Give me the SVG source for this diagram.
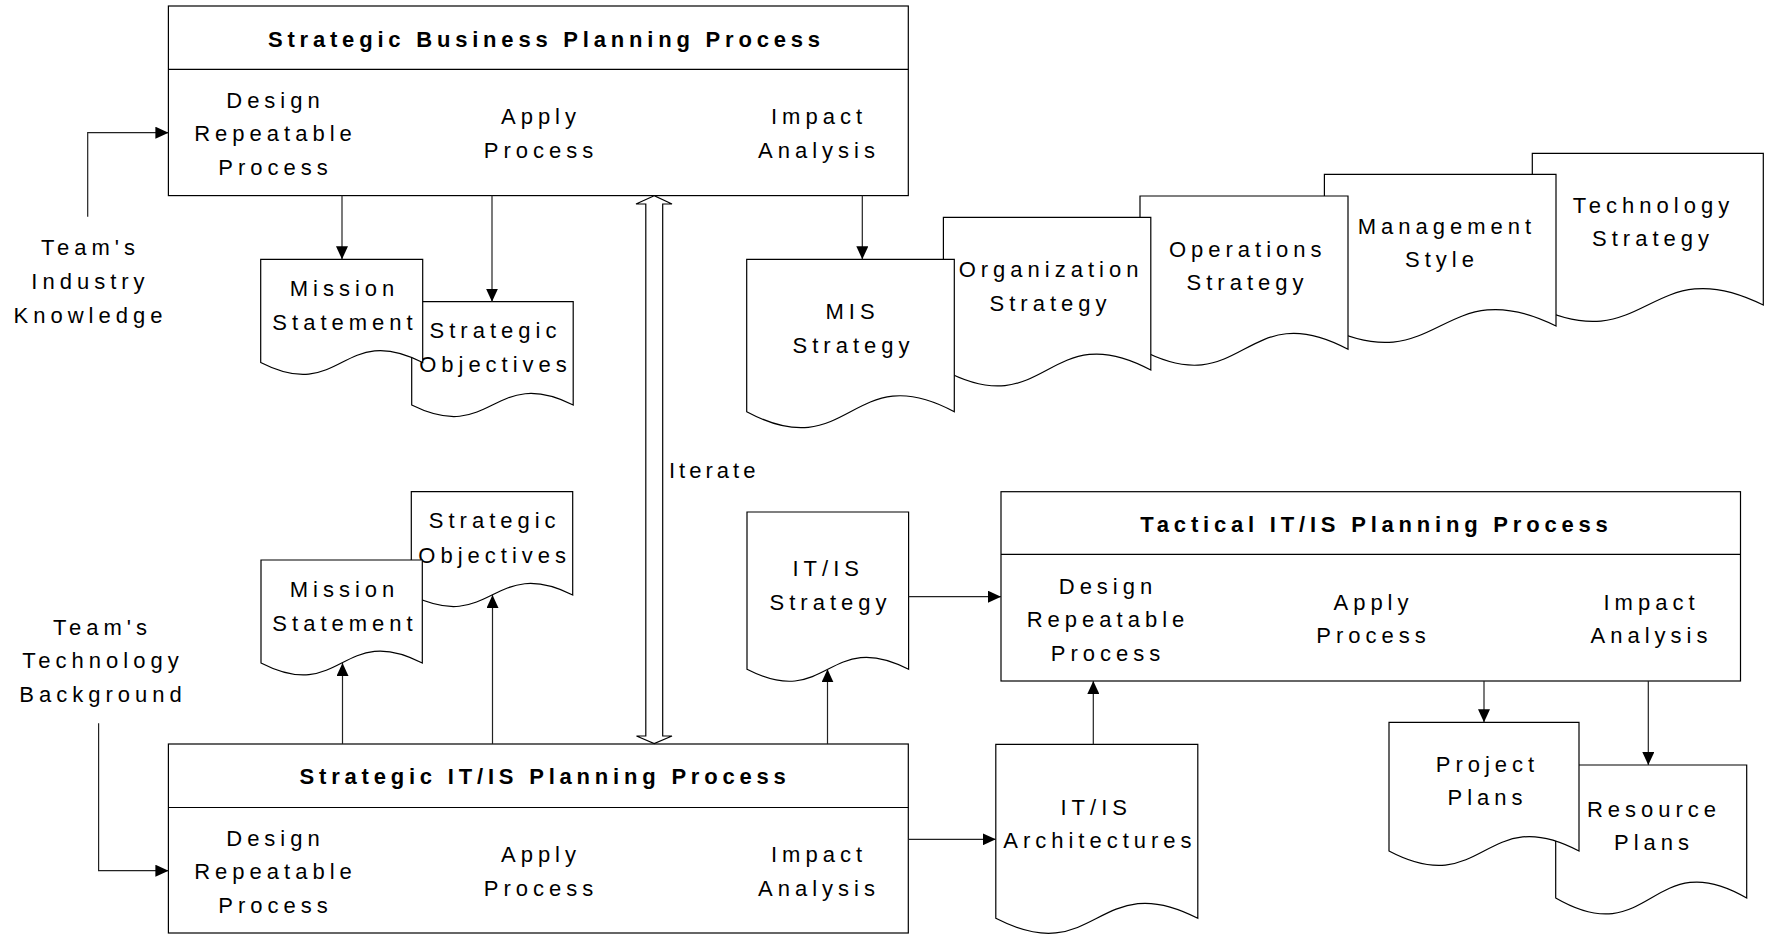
<svg xmlns="http://www.w3.org/2000/svg" width="1772" height="934" viewBox="0 0 1772 934">
<defs>
<style>
.shape{fill:#fff;stroke:#000;stroke-width:1.2}
.line{fill:none;stroke:#000;stroke-width:1.2}
.conn{fill:none;stroke:#222;stroke-width:1.2;marker-end:url(#arrow)}
.t{font-family:"Liberation Sans",Arial,sans-serif;font-size:22px;letter-spacing:5px;text-anchor:middle;fill:#000}
.tl{font-family:"Liberation Sans",Arial,sans-serif;font-size:22px;letter-spacing:4px;fill:#000}
.title{font-family:"Liberation Sans",Arial,sans-serif;font-size:22px;font-weight:bold;letter-spacing:4.8px;text-anchor:middle;fill:#000}
</style>
<marker id="arrow" markerUnits="userSpaceOnUse" markerWidth="13" markerHeight="12" refX="13" refY="6" orient="auto">
<path d="M0,0 L13,6 L0,12 Z" fill="#000"/>
</marker>
</defs>
<rect width="1772" height="934" fill="#fff"/>

<g id="strategic-business-planning">
<rect class="shape" x="168.4" y="6" width="739.9" height="189.6"/>
<line class="line" x1="168.4" y1="69.3" x2="908.3" y2="69.3"/>
<text class="title" x="546.4" y="46.7">Strategic Business Planning Process</text>
<text class="t"><tspan x="275.5" y="108.3">Design</tspan><tspan x="275.5" y="141.3">Repeatable</tspan><tspan x="275.5" y="175">Process</tspan></text>
<text class="t"><tspan x="541" y="124">Apply</tspan><tspan x="541" y="157.7">Process</tspan></text>
<text class="t"><tspan x="819" y="124">Impact</tspan><tspan x="819" y="157.7">Analysis</tspan></text>
</g>

<g id="industry-knowledge">
<text class="t"><tspan x="90.5" y="255">Team's</tspan><tspan x="90.5" y="288.7">Industry</tspan><tspan x="90.5" y="322.7">Knowledge</tspan></text>
</g>

<g id="strategic-objectives-top">
<path class="shape" d="M411.7,301.7 H573.2 V405 C492.4,365 492.4,445 411.7,405 Z"/>
<text class="t"><tspan x="495.5" y="338.3">Strategic</tspan><tspan x="495.5" y="372.3">Objectives</tspan></text>
</g>

<g id="mission-statement-top">
<path class="shape" d="M260.7,259.3 H422.7 V362.5 C341.7,321 341.7,404 260.7,362.5 Z"/>
<text class="t"><tspan x="344.5" y="296">Mission</tspan><tspan x="345" y="330">Statement</tspan></text>
</g>

<g id="technology-strategy">
<path class="shape" d="M1532.3,153.3 H1763.3 V305 C1647.8,248 1647.8,362 1532.3,305 Z"/>
<text class="t"><tspan x="1653.5" y="212.7">Technology</tspan><tspan x="1653" y="246">Strategy</tspan></text>
</g>

<g id="management-style">
<path class="shape" d="M1324.4,174.3 H1556 V326 C1440.2,269 1440.2,383 1324.4,326 Z"/>
<text class="t"><tspan x="1447" y="234">Management</tspan><tspan x="1442" y="267.3">Style</tspan></text>
</g>

<g id="operations-strategy">
<path class="shape" d="M1140,196 H1348 V349.3 C1244,294 1244,404.6 1140,349.3 Z"/>
<text class="t"><tspan x="1247.7" y="256.7">Operations</tspan><tspan x="1247.5" y="290">Strategy</tspan></text>
</g>

<g id="organization-strategy">
<path class="shape" d="M943.4,217.3 H1150.8 V370 C1047.1,314.6 1047.1,425.4 943.4,370 Z"/>
<text class="t"><tspan x="1051" y="276.7">Organization</tspan><tspan x="1050.5" y="310.7">Strategy</tspan></text>
</g>

<g id="mis-strategy">
<path class="shape" d="M746.7,259.3 H954.3 V411.7 C850.5,356.3 850.5,467.1 746.7,411.7 Z"/>
<text class="t"><tspan x="852.5" y="319.3">MIS</tspan><tspan x="853.5" y="352.7">Strategy</tspan></text>
</g>

<g id="iterate">
<text class="tl" x="669" y="478">Iterate</text>
</g>

<g id="strategic-objectives-bottom">
<path class="shape" d="M411.3,491.7 H572.7 V595 C492,555 492,635 411.3,595 Z"/>
<text class="t"><tspan x="494.7" y="528.3">Strategic</tspan><tspan x="494.7" y="562.7">Objectives</tspan></text>
</g>

<g id="mission-statement-bottom">
<path class="shape" d="M261,560 H422.3 V663 C341.7,621.5 341.7,704.5 261,663 Z"/>
<text class="t"><tspan x="344.5" y="596.7">Mission</tspan><tspan x="345" y="630.7">Statement</tspan></text>
</g>

<g id="technology-background">
<text class="t"><tspan x="102.5" y="635">Team's</tspan><tspan x="103" y="668.3">Technology</tspan><tspan x="103" y="701.7">Background</tspan></text>
</g>

<g id="itis-strategy">
<path class="shape" d="M747,512 H908.6 V669.3 C827.8,627.8 827.8,710.8 747,669.3 Z"/>
<text class="t"><tspan x="828.2" y="575.7">IT/IS</tspan><tspan x="830.5" y="610">Strategy</tspan></text>
</g>

<g id="tactical-itis-planning">
<rect class="shape" x="1001" y="491.7" width="739.5" height="189.3"/>
<line class="line" x1="1001" y1="554.3" x2="1740.5" y2="554.3"/>
<text class="title" x="1376.4" y="531.7">Tactical IT/IS Planning Process</text>
<text class="t"><tspan x="1108" y="594">Design</tspan><tspan x="1108" y="627">Repeatable</tspan><tspan x="1108" y="660.7">Process</tspan></text>
<text class="t"><tspan x="1373.5" y="609.7">Apply</tspan><tspan x="1373.5" y="643.4">Process</tspan></text>
<text class="t"><tspan x="1651.5" y="609.7">Impact</tspan><tspan x="1651.5" y="643.4">Analysis</tspan></text>
</g>

<g id="strategic-itis-planning">
<rect class="shape" x="168.4" y="744" width="739.9" height="189"/>
<line class="line" x1="168.4" y1="807.5" x2="908.3" y2="807.5"/>
<text class="title" x="545.1" y="784">Strategic IT/IS Planning Process</text>
<text class="t"><tspan x="275.5" y="846.3">Design</tspan><tspan x="275.5" y="879.3">Repeatable</tspan><tspan x="275.5" y="913">Process</tspan></text>
<text class="t"><tspan x="541" y="862">Apply</tspan><tspan x="541" y="895.7">Process</tspan></text>
<text class="t"><tspan x="819" y="862">Impact</tspan><tspan x="819" y="895.7">Analysis</tspan></text>
</g>

<g id="itis-architectures">
<path class="shape" d="M995.8,744.3 H1197.8 V918.3 C1096.8,866.3 1096.8,970.3 995.8,918.3 Z"/>
<text class="t"><tspan x="1096.2" y="815">IT/IS</tspan><tspan x="1099.9" y="848.3">Architectures</tspan></text>
</g>

<g id="resource-plans">
<path class="shape" d="M1555.7,765 H1746.7 V898 C1651.2,842.6 1651.2,953.4 1555.7,898 Z"/>
<text class="t"><tspan x="1654" y="816.7">Resource</tspan><tspan x="1654" y="850">Plans</tspan></text>
</g>

<g id="project-plans">
<path class="shape" d="M1389,722.3 H1579 V851 C1484,801 1484,901 1389,851 Z"/>
<text class="t"><tspan x="1487.5" y="771.7">Project</tspan><tspan x="1487.5" y="805">Plans</tspan></text>
</g>

<g id="connectors">
<path class="conn" d="M87.7,216.7 V132.7 H168.4"/>
<path class="conn" d="M98.6,723.3 V870.7 H168.4"/>
<path class="conn" d="M342,195.6 V259.3"/>
<path class="conn" d="M492,195.6 V301.7"/>
<path class="conn" d="M862.3,195.6 V259.3"/>
<path class="conn" d="M342.5,744 V663"/>
<path class="conn" d="M492.5,744 V595"/>
<path class="conn" d="M827.5,744 V669.3"/>
<path class="conn" d="M908.6,596.7 H1001"/>
<path class="conn" d="M908.3,839.3 H995.8"/>
<path class="conn" d="M1093.3,744.3 V681"/>
<path class="conn" d="M1484,681 V722.3"/>
<path class="conn" d="M1648.3,681 V765"/>
<polygon class="shape" points="654.2,195.7 636,204 645.8,204 645.8,736 636.5,736 654.2,743.6 672,736 662.7,736 662.7,204 672,204"/>
</g>
</svg>
